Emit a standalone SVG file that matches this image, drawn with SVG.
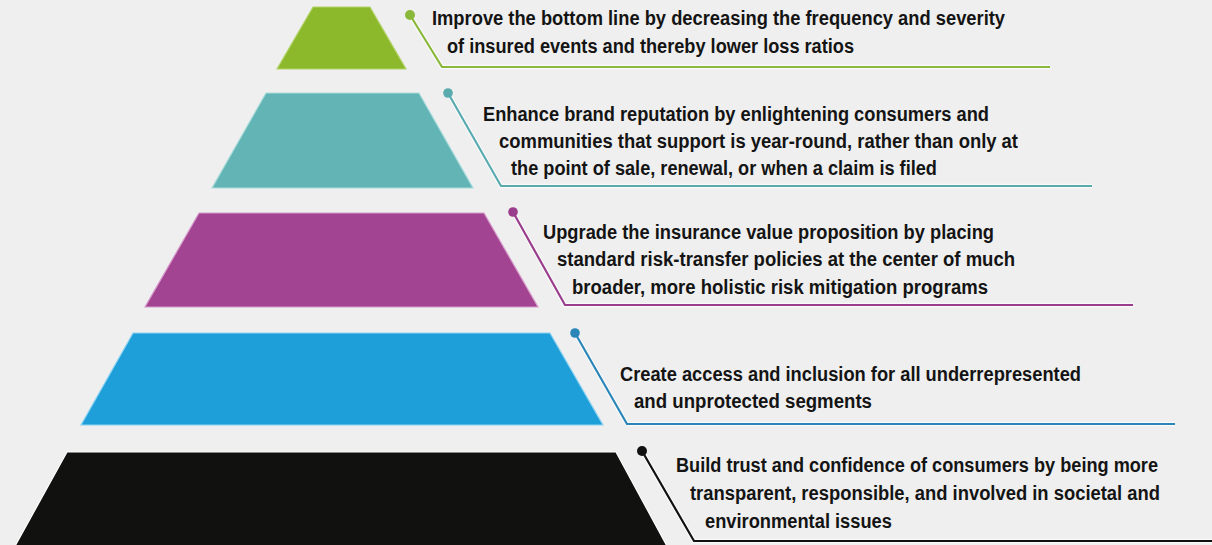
<svg xmlns="http://www.w3.org/2000/svg" width="1212" height="545" viewBox="0 0 1212 545">
<style>
.bg{fill:#efefef}
.tz{stroke-width:1.2;stroke-linejoin:miter}
.lbl{font-family:"Liberation Sans Narrow","Liberation Sans",Arial,sans-serif;font-weight:bold;font-size:21px;fill:#141414}
.halo{fill:none;stroke:#ffffff;stroke-opacity:0.7;stroke-width:4.5;stroke-linejoin:miter}
.ld{fill:none;stroke-width:2.2;stroke-linejoin:miter}
</style>
<rect class="bg" x="0" y="0" width="1212" height="545"/>

<g id="tier-1">
<polygon class="tz" points="313,7 370,7 406,69 277,69" fill="#8cb82b" stroke="#b4d46a"/>
</g>
<g id="tier-2">
<polygon class="tz" points="266,93 419,93 473,188 212,188" fill="#63b4b5" stroke="#a9dcdc"/>
</g>
<g id="tier-3">
<polygon class="tz" points="199,213 484,213 538,307 145,307" fill="#a24491" stroke="#d79ccc"/>
</g>
<g id="tier-4">
<polygon class="tz" points="133,333 550,333 603,425 81,425" fill="#1f9fd9" stroke="#8fd4f2"/>
</g>
<g id="tier-5">
<polygon class="tz" points="67,452 616,452 668,548 14,548" fill="#111110" stroke="#ffffff"/>
</g>

<g id="connectors">
<polyline class="halo" points="410,15 442,67 1050,67"/>
<polyline class="ld" points="410,15 442,67 1050,67" stroke="#8ab83a"/>
<circle cx="410" cy="15" r="5" fill="#8ab83a"/>

<polyline class="halo" points="448,93 501,186 1092,186"/>
<polyline class="ld" points="448,93 501,186 1092,186" stroke="#5aabb0"/>
<circle cx="448" cy="93" r="4.8" fill="#5aabb0"/>

<polyline class="halo" points="513,212 565,305 1133,305"/>
<polyline class="ld" points="513,212 565,305 1133,305" stroke="#993d8c"/>
<circle cx="513" cy="212" r="4.8" fill="#993d8c"/>

<polyline class="halo" points="575,333 627,424 1175,424"/>
<polyline class="ld" points="575,333 627,424 1175,424" stroke="#2a86b8"/>
<circle cx="575" cy="333" r="4.8" fill="#2a86b8"/>

<polyline class="halo" points="642,451 694,541 1212,541"/>
<polyline class="ld" points="642,451 694,541 1212,541" stroke="#111111"/>
<circle cx="642" cy="451" r="5" fill="#111111"/>
</g>

<g id="label-1">
<text class="lbl" transform="translate(432,25) scale(0.86,1)" textLength="666.3" lengthAdjust="spacingAndGlyphs">Improve the bottom line by decreasing the frequency and severity</text>
<text class="lbl" transform="translate(447,53) scale(0.86,1)" textLength="473.3" lengthAdjust="spacingAndGlyphs">of insured events and thereby lower loss ratios</text>
</g>
<g id="label-2">
<text class="lbl" transform="translate(483,121) scale(0.86,1)" textLength="588.4" lengthAdjust="spacingAndGlyphs">Enhance brand reputation by enlightening consumers and</text>
<text class="lbl" transform="translate(499,148) scale(0.86,1)" textLength="603.5" lengthAdjust="spacingAndGlyphs">communities that support is year-round, rather than only at</text>
<text class="lbl" transform="translate(511,175) scale(0.86,1)" textLength="495.3" lengthAdjust="spacingAndGlyphs">the point of sale, renewal, or when a claim is filed</text>
</g>
<g id="label-3">
<text class="lbl" transform="translate(543,239) scale(0.86,1)" textLength="524.4" lengthAdjust="spacingAndGlyphs">Upgrade the insurance value proposition by placing</text>
<text class="lbl" transform="translate(557,266) scale(0.86,1)" textLength="532.6" lengthAdjust="spacingAndGlyphs">standard risk-transfer policies at the center of much</text>
<text class="lbl" transform="translate(572,294) scale(0.86,1)" textLength="483.7" lengthAdjust="spacingAndGlyphs">broader, more holistic risk mitigation programs</text>
</g>
<g id="label-4">
<text class="lbl" transform="translate(620,381) scale(0.86,1)" textLength="536" lengthAdjust="spacingAndGlyphs">Create access and inclusion for all underrepresented</text>
<text class="lbl" transform="translate(634,408) scale(0.86,1)" textLength="276.7" lengthAdjust="spacingAndGlyphs">and unprotected segments</text>
</g>
<g id="label-5">
<text class="lbl" transform="translate(676,472) scale(0.86,1)" textLength="560.5" lengthAdjust="spacingAndGlyphs">Build trust and confidence of consumers by being more</text>
<text class="lbl" transform="translate(690,500) scale(0.86,1)" textLength="546.5" lengthAdjust="spacingAndGlyphs">transparent, responsible, and involved in societal and</text>
<text class="lbl" transform="translate(705,528) scale(0.86,1)" textLength="217.4" lengthAdjust="spacingAndGlyphs">environmental issues</text>
</g>
</svg>
